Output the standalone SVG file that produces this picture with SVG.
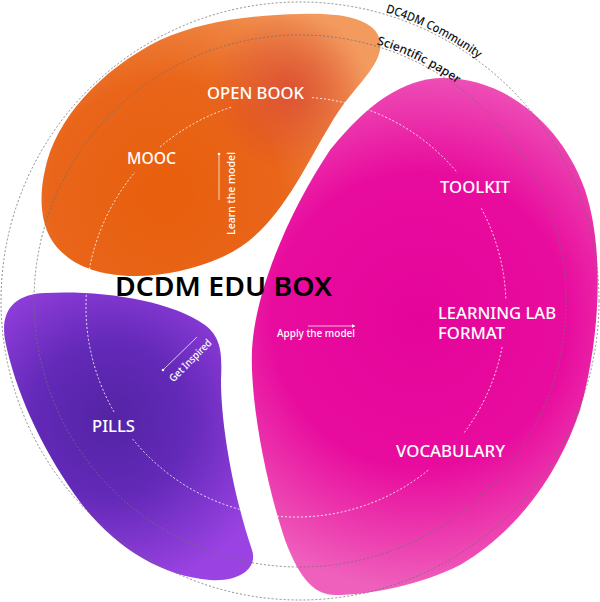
<svg xmlns="http://www.w3.org/2000/svg" width="600" height="602" viewBox="0 0 600 602">
<style>
.lbl{font-family:"Noto Sans","Open Sans",sans-serif;font-size:16px;font-weight:500;fill:#fff}
.small{font-family:"Noto Sans","Open Sans",sans-serif;font-size:10.5px;font-weight:500;fill:#fff}
.ring{fill:none;stroke:#707070;stroke-width:0.8;stroke-dasharray:2 2}
.conn{fill:none;stroke:#fff;stroke-opacity:0.85;stroke-width:1;stroke-dasharray:2 2}
.cap{font-family:"Noto Sans","Open Sans",sans-serif;font-size:12px;font-weight:500;fill:#111}
.tick{stroke:#fff;stroke-opacity:0.8;stroke-width:0.9}
</style>
<defs>
<radialGradient id="gOrange" gradientUnits="userSpaceOnUse" cx="165" cy="195" r="230">
<stop offset="0" stop-color="#E85F0C"/>
<stop offset="0.5" stop-color="#E9651A"/>
<stop offset="1" stop-color="#F39B5E"/>
</radialGradient>
<radialGradient id="gRed" gradientUnits="userSpaceOnUse" cx="290" cy="90" r="80">
<stop offset="0" stop-color="#D84832" stop-opacity="0.8"/>
<stop offset="1" stop-color="#D84832" stop-opacity="0"/>
</radialGradient>
<radialGradient id="gPurple" gradientUnits="userSpaceOnUse" cx="110" cy="420" r="170">
<stop offset="0" stop-color="#5324A4"/>
<stop offset="0.45" stop-color="#6329B8"/>
<stop offset="1" stop-color="#9A42E2"/>
</radialGradient>
<radialGradient id="gPink" gradientUnits="userSpaceOnUse" cx="420" cy="320" r="270">
<stop offset="0" stop-color="#E5049A"/>
<stop offset="0.55" stop-color="#E80C9E"/>
<stop offset="1" stop-color="#EF60BC"/>
</radialGradient>
<path id="arcCommunity" d="M 385.5 12.4 A 301 301 0 0 1 530.6 107.5"/>
<path id="arcPaper" d="M 376.6 44.2 A 268 268 0 0 1 505.3 128.7"/>
</defs>

<rect width="600" height="602" fill="#fff"/>

<g id="area-learn">
<path d="M 300 14 C 345 12, 385 20, 380 50 C 376 72, 350 90, 330 125 C 300 175, 275 235, 220 258 C 170 280, 100 285, 65 255 C 40 235, 38 200, 45 170 C 55 120, 100 70, 160 40 C 200 22, 250 15, 300 14 Z" fill="url(#gOrange)"/>
<path d="M 300 14 C 345 12, 385 20, 380 50 C 376 72, 350 90, 330 125 C 300 175, 275 235, 220 258 C 170 280, 100 285, 65 255 C 40 235, 38 200, 45 170 C 55 120, 100 70, 160 40 C 200 22, 250 15, 300 14 Z" fill="url(#gRed)"/>
</g>
<g id="area-inspire">
<path d="M 45 293 C 100 290, 170 300, 205 325 C 222 338, 222 355, 221 380 C 221 430, 235 500, 252 550 C 258 568, 240 582, 210 580 C 160 576, 110 545, 75 495 C 40 445, 15 390, 5 340 C 0 310, 15 294, 45 293 Z" fill="url(#gPurple)"/>
</g>
<g id="area-apply">
<path d="M 440 78 C 500 76, 560 120, 585 190 C 605 250, 600 340, 580 410 C 560 470, 520 530, 460 565 C 420 585, 370 595, 335 595 C 315 595, 300 580, 285 540 C 265 480, 250 400, 252 350 C 255 290, 290 210, 330 150 C 370 100, 405 80, 440 78 Z" fill="url(#gPink)"/>
</g>

<g id="rings">
<circle class="ring" cx="300" cy="301" r="299" stroke="#8a8a8a"/>
<circle class="ring" cx="300" cy="301" r="266"/>
<text class="cap"><textPath href="#arcCommunity" textLength="104" lengthAdjust="spacingAndGlyphs">DC4DM Community</textPath></text>
<text class="cap"><textPath href="#arcPaper" textLength="90" lengthAdjust="spacingAndGlyphs">Scientific paper</textPath></text>
</g>

<g id="connectors">
<path class="conn" d="M 159.9 147.1 A 210 210 0 0 1 232.2 106.9"/>
<path class="conn" d="M 312.1 97.6 A 210 210 0 0 1 457.3 172.6"/>
<path class="conn" d="M 481.4 208.4 A 210 210 0 0 1 505.9 300.0"/>
<path class="conn" d="M 502.1 347.1 A 210 210 0 0 1 463.7 433.4"/>
<path class="conn" d="M 428.2 470.2 A 210 210 0 0 1 132.8 439.2"/>
<path class="conn" d="M 114.1 412.0 A 210 210 0 0 1 135.1 172.0"/>
</g>

<g id="title">
<text x="115" y="296" font-family="Noto Sans, Open Sans, sans-serif" font-size="27" font-weight="600" fill="#000" textLength="217" lengthAdjust="spacingAndGlyphs">DCDM EDU BOX</text>
</g>

<g id="node-openbook"><text class="lbl" x="207" y="99" textLength="97" lengthAdjust="spacingAndGlyphs">OPEN BOOK</text></g>
<g id="node-mooc"><text class="lbl" x="127" y="164" textLength="49" lengthAdjust="spacingAndGlyphs">MOOC</text></g>
<g id="node-toolkit"><text class="lbl" x="440" y="193" textLength="70" lengthAdjust="spacingAndGlyphs">TOOLKIT</text></g>
<g id="node-learninglab"><text class="lbl" x="438" y="319" textLength="118" lengthAdjust="spacingAndGlyphs">LEARNING LAB</text><text class="lbl" x="438" y="339" textLength="67" lengthAdjust="spacingAndGlyphs">FORMAT</text></g>
<g id="node-vocabulary"><text class="lbl" x="396" y="457" textLength="109" lengthAdjust="spacingAndGlyphs">VOCABULARY</text></g>
<g id="node-pills"><text class="lbl" x="92" y="432" textLength="43" lengthAdjust="spacingAndGlyphs">PILLS</text></g>

<g id="label-learn">
<line class="tick" x1="219" y1="200" x2="219" y2="154"/>
<circle cx="219" cy="154" r="1.3" fill="#fff"/>
<text class="small" transform="translate(235,193.5) rotate(-90)" text-anchor="middle" textLength="83" lengthAdjust="spacingAndGlyphs">Learn the model</text>
</g>
<g id="label-apply">
<line class="tick" x1="308" y1="326" x2="353" y2="326"/>
<path d="M 352 324.3 L 355.5 326 L 352 327.7 Z" fill="#fff"/>
<text class="small" x="277" y="337" textLength="78" lengthAdjust="spacingAndGlyphs">Apply the model</text>
</g>
<g id="label-inspire">
<line class="tick" x1="163" y1="370" x2="197" y2="337"/>
<circle cx="163" cy="370" r="1.3" fill="#fff"/>
<text class="small" transform="translate(193,363) rotate(-45)" text-anchor="middle" textLength="55" lengthAdjust="spacingAndGlyphs">Get Inspired</text>
</g>
</svg>
